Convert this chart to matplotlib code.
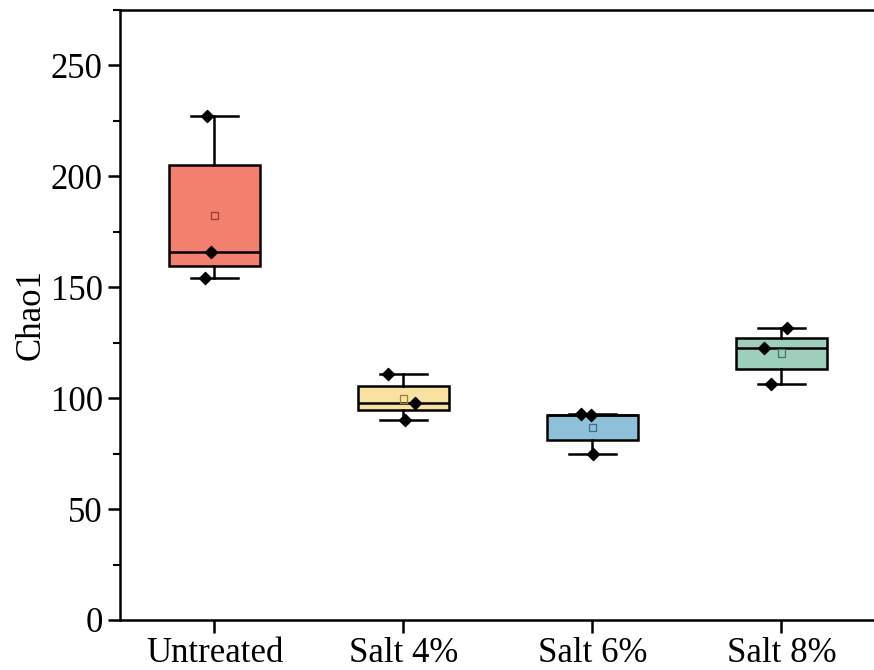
import numpy as np
import matplotlib.pyplot as plt
from matplotlib.ticker import MultipleLocator

plt.rcParams['font.family'] = ['Liberation Serif', 'DejaVu Serif']

# datos
grupos = ["Untreated", "Salt 4%", "Salt 6%", "Salt 8%"]
puntos = [[227.3, 166.0, 154.0],
          [110.8, 98.0, 90.2],
          [92.8, 92.5, 74.8],
          [131.8, 122.5, 106.6]]
q1 = [159.7, 94.6, 81.1, 113.1]
q3 = [205.1, 105.5, 92.4, 127.3]
medianas = [165.9, 98.0, 92.5, 122.5]
colores = ["#F3806F", "#F9E1A1", "#8EC1D9", "#9DCFBA"]
bordes_media = ["#9c3a30", "#9a7f3a", "#3c6f88", "#3e7a63"]

# desplazamiento horizontal de los puntos (jitter)
jitter = [[-0.04, -0.02, -0.05],
          [-0.08, 0.06, 0.01],
          [-0.06, -0.01, 0.005],
          [0.03, -0.09, -0.055]]

fig = plt.figure(figsize=(8.74, 6.70), dpi=100)
ax = fig.add_axes([120/874, 50/670, 1 - 120/874, 610/670])

stats = []
for i, g in enumerate(grupos):
    p = np.array(puntos[i])
    stats.append(dict(label=g, med=medianas[i], q1=q1[i], q3=q3[i],
                      whislo=p.min(), whishi=p.max(), mean=p.mean(), fliers=[]))

pos = np.arange(1, len(grupos) + 1)
bp = ax.bxp(stats, positions=pos, widths=0.48, patch_artist=True,
            showmeans=False, showfliers=False,
            boxprops=dict(linewidth=1.8, edgecolor="black"),
            medianprops=dict(color="black", linewidth=1.8),
            whiskerprops=dict(color="black", linewidth=1.8),
            capprops=dict(color="black", linewidth=1.8),
            capwidths=0.25)
for caja, c in zip(bp["boxes"], colores):
    caja.set_facecolor(c)

for i in range(len(grupos)):
    x = pos[i] + np.array(jitter[i])
    ax.scatter(x, puntos[i], marker="D", s=38, color="black", zorder=5)
    ax.scatter([pos[i]], [np.mean(puntos[i])], marker="s", s=30,
               facecolor="none", edgecolor=bordes_media[i], linewidth=0.9, zorder=4)

ax.set_xlim(0.5, 4.49)
ax.set_ylim(0, 275)
ax.set_xticks(pos)
ax.set_xticklabels(grupos)
ax.set_yticks(np.arange(0, 251, 50))
ax.yaxis.set_minor_locator(MultipleLocator(25))
ax.set_ylabel("Chao1", fontsize=25, labelpad=2)

ax.tick_params(axis="both", which="major", direction="out", length=9, width=1.8, labelsize=25)
ax.tick_params(axis="y", which="minor", direction="out", length=5, width=1.5)
for s in ["left", "bottom", "top"]:
    ax.spines[s].set_linewidth(1.8)
ax.spines["right"].set_visible(False)

plt.savefig("out.png", dpi=100)
